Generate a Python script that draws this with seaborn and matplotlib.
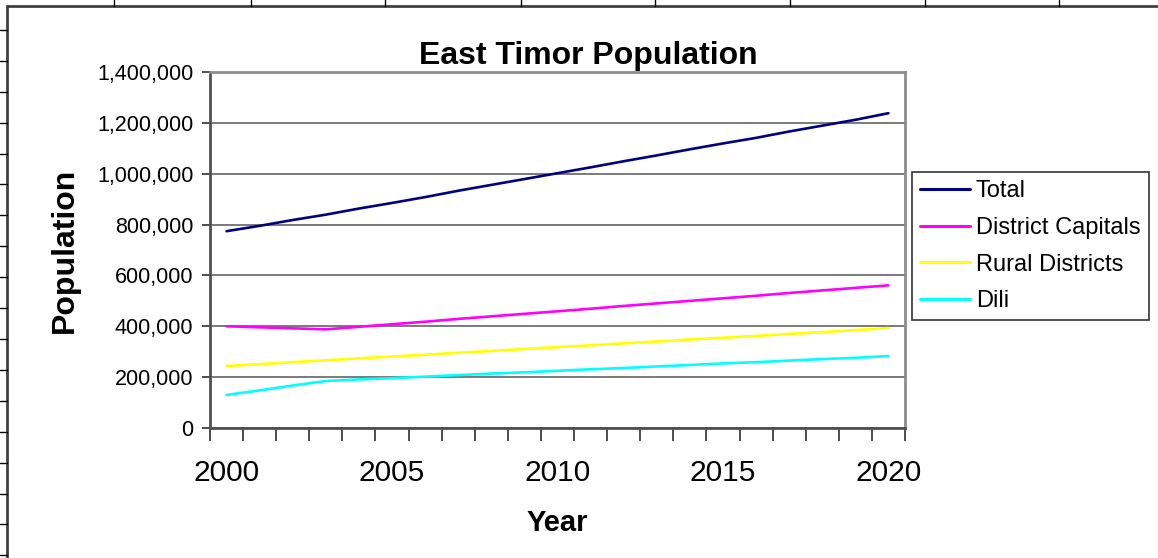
import numpy as np
import pandas as pd
import matplotlib
matplotlib.use("Agg")
import matplotlib.pyplot as plt
from matplotlib.lines import Line2D
from matplotlib.ticker import FuncFormatter, MultipleLocator
import seaborn as sns

# values
years = list(range(2000, 2021))
total = [774000, 795000, 818000, 839000, 863000, 885000, 908000, 933000, 956000, 979000,
         1002000, 1025000, 1049000, 1072000, 1096000, 1119000, 1141000, 1166000, 1189000,
         1212000, 1238000]
district_capitals = [400000, 396000, 392000, 388000, 398000, 408000, 418000, 429000, 439000,
                     449000, 459000, 469000, 480000, 490000, 500000, 510000, 520000, 531000,
                     541000, 551000, 561000]
rural_districts = [244000, 251000, 259000, 266000, 274000, 281000, 288000, 296000, 303000,
                   311000, 318000, 325000, 333000, 340000, 348000, 355000, 362000, 370000,
                   377000, 385000, 393000]
dili = [130000, 148000, 167000, 185000, 191000, 196000, 202000, 208000, 214000, 219000,
        225000, 231000, 236000, 242000, 248000, 254000, 259000, 265000, 271000, 276000,
        283000]
series_names = ["Total", "District Capitals", "Rural Districts", "Dili"]
colors = ["#000080", "#FF00FF", "#FFFF00", "#00FFFF"]

df = pd.concat([
    pd.DataFrame({"Year": years, "Population": vals, "Series": name})
    for name, vals in zip(series_names, [total, district_capitals, rural_districts, dili])
])

sns.set_theme(style="white")
plt.rcParams["font.family"] = ["Liberation Sans", "DejaVu Sans"]
plt.rcParams["text.color"] = "black"
plt.rcParams["axes.labelcolor"] = "black"
plt.rcParams["xtick.color"] = "black"
plt.rcParams["ytick.color"] = "black"

fig = plt.figure(figsize=(11.58, 5.58), dpi=100)
W, H = 1158, 558
ax = fig.add_axes([210 / W, 1 - 428 / H, 695 / W, 356 / H])

sns.lineplot(data=df, x="Year", y="Population", hue="Series", hue_order=series_names,
             palette=colors, linewidth=1.9, ax=ax, legend=False)

ax.set_xlim(1999.5, 2020.5)
ax.set_ylim(0, 1400000)
ax.yaxis.set_major_locator(MultipleLocator(200000))
ax.yaxis.set_major_formatter(FuncFormatter(lambda v, p: f"{int(v):,}"))
ax.set_xticks([2000, 2005, 2010, 2015, 2020])
ax.set_xticks(np.arange(1999.5, 2021, 1), minor=True)
ax.tick_params(axis="x", which="major", length=0, labelsize=21.5, pad=22, labelcolor="black")
ax.tick_params(axis="x", which="minor", length=9, width=1.3, direction="out",
               color="#404040", bottom=True)
ax.tick_params(axis="y", which="major", length=6, width=1.3, direction="out",
               labelsize=15.5, pad=6, color="#404040", left=True, labelcolor="black")

ax.grid(axis="y", color="#707070", linewidth=1.3)
ax.grid(axis="x", visible=False)
for side in ["left", "bottom"]:
    ax.spines[side].set_color("#505050")
    ax.spines[side].set_linewidth(2)
for side in ["top", "right"]:
    ax.spines[side].set_color("#8c8c8c")
    ax.spines[side].set_linewidth(2)
ax.set_axisbelow(True)

ax.set_xlabel("Year", fontsize=21, fontweight="bold", labelpad=16)
ax.set_ylabel("Population", fontsize=23, fontweight="bold", labelpad=12)
fig.text(588 / W, 1 - 56 / H, "East Timor Population", fontsize=23, fontweight="bold",
         ha="center", va="center")

handles = [Line2D([], [], color=c, linewidth=2.2) for c in colors]
leg = fig.legend(handles, series_names, loc="upper left",
                 bbox_to_anchor=(912 / W, 1 - 172 / H), bbox_transform=fig.transFigure,
                 fontsize=17, frameon=True, fancybox=False, borderaxespad=0,
                 handlelength=2.1, handletextpad=0.25, labelspacing=0.62, borderpad=0.35)
leg.get_frame().set_edgecolor("black")
leg.get_frame().set_linewidth(1.2)

# spreadsheet cells behind the chart
fig.add_artist(Line2D([7 / W, 1], [1 - 6 / H, 1 - 6 / H], color="#404040", linewidth=2))
fig.add_artist(Line2D([7 / W, 7 / W], [0, 1 - 6 / H], color="#404040", linewidth=2))
for x in [114, 251, 385, 521, 655, 790, 925, 1059]:
    fig.add_artist(Line2D([x / W, x / W], [1 - 6 / H, 1], color="black", linewidth=1))
for y in np.arange(30, 558, 30.9):
    fig.add_artist(Line2D([0, 7 / W], [1 - y / H, 1 - y / H], color="black", linewidth=1))

fig.savefig("out.png", dpi=100)
